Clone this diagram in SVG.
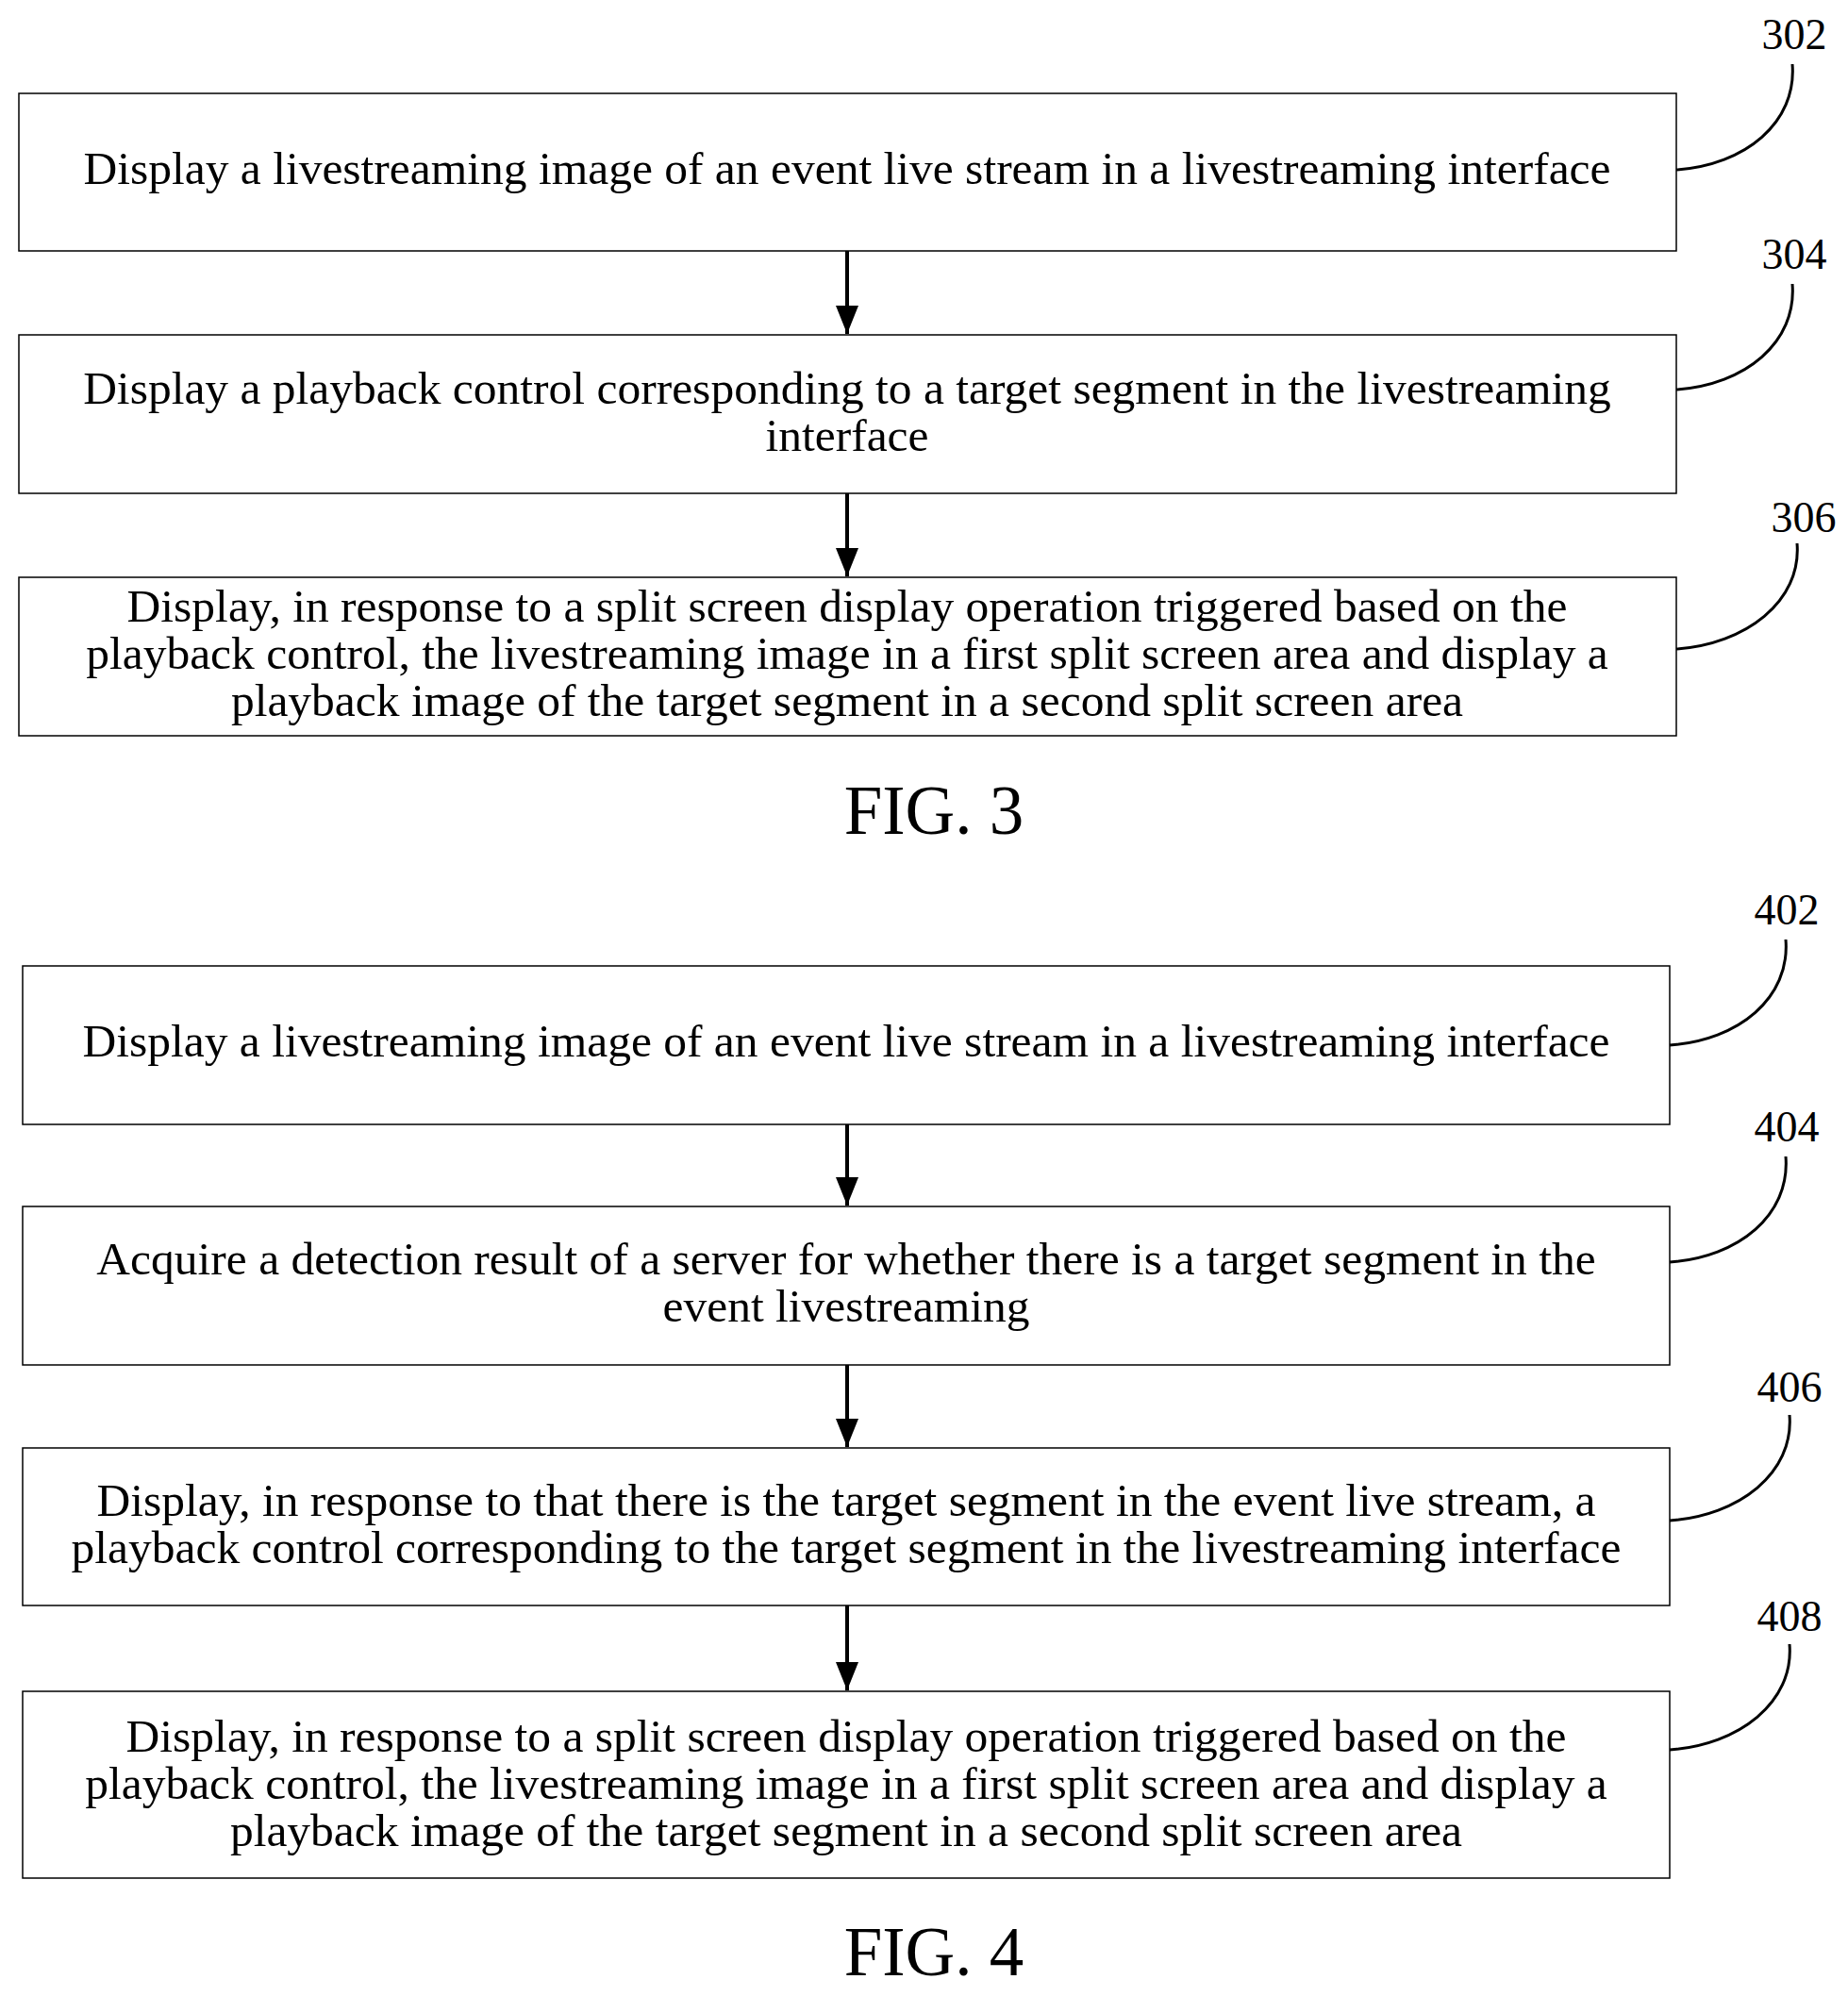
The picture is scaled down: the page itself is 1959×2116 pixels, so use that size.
<svg xmlns="http://www.w3.org/2000/svg" width="1959" height="2116" viewBox="0 0 1959 2116">
<style>
.b{fill:#fff;stroke:#000;stroke-width:1.5}
.t{font-family:"Liberation Serif",serif;font-size:49.5px;text-anchor:middle;fill:#000}
.n{font-family:"Liberation Serif",serif;font-size:46px;text-anchor:middle;fill:#000}
.f{font-family:"Liberation Serif",serif;font-size:73px;text-anchor:middle;fill:#000}
.l{fill:none;stroke:#000;stroke-width:3}
.a{stroke:#000;stroke-width:4}
</style>
<defs>
<marker id="m" markerWidth="32" markerHeight="32" refX="30" refY="16" orient="auto" markerUnits="userSpaceOnUse"><path d="M0,4 L30,16 L0,28 z" fill="#000"/></marker></defs>
<rect width="1959" height="2116" fill="#fff"/>
<g id="n302"><rect class="b" x="20" y="99" width="1757" height="167"/><text class="t" x="898" y="195">Display a livestreaming image of an event live stream in a livestreaming interface</text></g>
<g id="n304"><rect class="b" x="20" y="355" width="1757" height="168"/><text class="t" x="898" y="428">Display a playback control corresponding to a target segment in the livestreaming</text><text class="t" x="898" y="478">interface</text></g>
<g id="n306"><rect class="b" x="20" y="612" width="1757" height="168"/><text class="t" x="898" y="659">Display, in response to a split screen display operation triggered based on the</text><text class="t" x="898" y="709">playback control, the livestreaming image in a first split screen area and display a</text><text class="t" x="898" y="759">playback image of the target segment in a second split screen area</text></g>
<text class="f" x="990" y="884">FIG. 3</text>
<g id="n402"><rect class="b" x="24" y="1024" width="1746" height="168"/><text class="t" x="897" y="1120">Display a livestreaming image of an event live stream in a livestreaming interface</text></g>
<g id="n404"><rect class="b" x="24" y="1279" width="1746" height="168"/><text class="t" x="897" y="1351">Acquire a detection result of a server for whether there is a target segment in the</text><text class="t" x="897" y="1401">event livestreaming</text></g>
<g id="n406"><rect class="b" x="24" y="1535" width="1746" height="167"/><text class="t" x="897" y="1607">Display, in response to that there is the target segment in the event live stream, a</text><text class="t" x="897" y="1657">playback control corresponding to the target segment in the livestreaming interface</text></g>
<g id="n408"><rect class="b" x="24" y="1793" width="1746" height="198"/><text class="t" x="897" y="1857">Display, in response to a split screen display operation triggered based on the</text><text class="t" x="897" y="1907">playback control, the livestreaming image in a first split screen area and display a</text><text class="t" x="897" y="1957">playback image of the target segment in a second split screen area</text></g>
<text class="f" x="990" y="2094">FIG. 4</text>
<g id="labels">
<text class="n" x="1902" y="52">302</text><text class="n" x="1902" y="285">304</text><text class="n" x="1912" y="564">306</text>
<text class="n" x="1894" y="980">402</text><text class="n" x="1894" y="1210">404</text><text class="n" x="1897" y="1486">406</text><text class="n" x="1897" y="1729">408</text>
</g>
<g id="connectors">
<line class="a" x1="898" y1="266" x2="898" y2="354" marker-end="url(#m)"/>
<line class="a" x1="898" y1="523" x2="898" y2="611" marker-end="url(#m)"/>
<line class="a" x1="898" y1="1192" x2="898" y2="1278" marker-end="url(#m)"/>
<line class="a" x1="898" y1="1447" x2="898" y2="1534" marker-end="url(#m)"/>
<line class="a" x1="898" y1="1702" x2="898" y2="1792" marker-end="url(#m)"/>
<path class="l" d="M1777,180 C1850,175 1905,130 1900,68"/>
<path class="l" d="M1777,413 C1850,408 1905,363 1900,301"/>
<path class="l" d="M1777,688 C1850,683 1910,638 1905,576"/>
<path class="l" d="M1770,1108 C1843,1103 1898,1058 1893,996"/>
<path class="l" d="M1770,1338 C1843,1333 1898,1288 1893,1226"/>
<path class="l" d="M1770,1612 C1843,1607 1902,1562 1897,1500"/>
<path class="l" d="M1770,1855 C1843,1850 1902,1805 1897,1743"/>
</g>
</svg>
